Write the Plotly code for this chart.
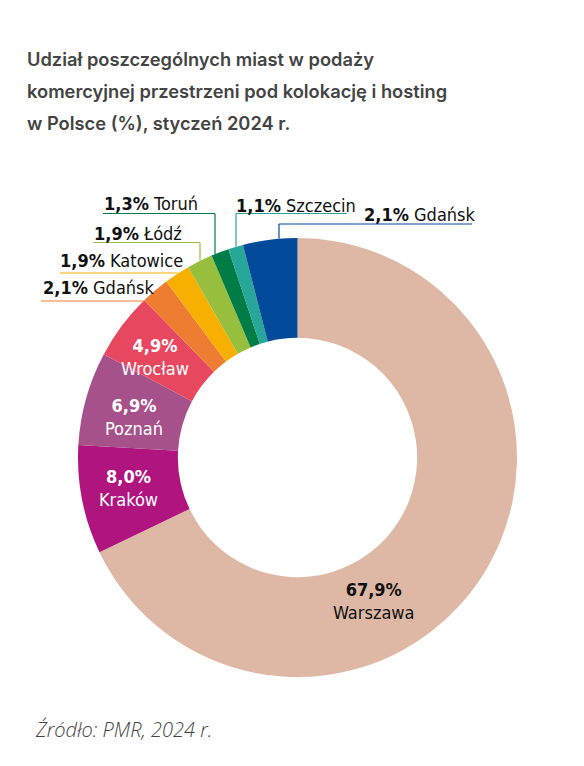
import math
import plotly.graph_objects as go

W, H = 584, 766

# ---------------- data ----------------
cities = ["Warszawa", "Kraków", "Poznań", "Wrocław", "Gdańsk", "Katowice",
          "Łódź", "Toruń", "Szczecin", "Gdańsk"]
# slice shares as drawn in the picture (%), clockwise from 12 o'clock
shares = [67.9, 8.0, 6.9, 4.9, 2.1, 1.9, 1.9, 1.3, 1.1, 4.0]
# percentages printed on the chart
printed_pct = ["67,9%", "8,0%", "6,9%", "4,9%", "2,1%", "1,9%",
               "1,9%", "1,3%", "1,1%", "2,1%"]
colors = ["#DFB8A5", "#B0157F", "#A6518A", "#E8485F", "#EE7D31", "#F8B000",
          "#97BE3C", "#007C46", "#27A69A", "#024A9A"]

title_lines = ["Udział poszczególnych miast w podaży",
               "komercyjnej przestrzeni pod kolokację i hosting",
               "w Polsce (%), styczeń 2024 r."]
source_text = "Źródło: PMR, 2024 r."

# ---------------- layout constants ----------------
OFF = 8  # page margin offset of the plot div
CX, CY, R = 297.5, 457.5, 219.5
HOLE = 0.545
LABEL_FONT = "DejaVu Sans Condensed, Liberation Sans Narrow, Roboto Condensed, sans-serif"
TITLE_FONT = "Inter, Lato, sans-serif"


def px(x):
    return (x - OFF) / W


def py(y):
    return 1 - (y - OFF) / H


def edge_y(x):
    return CY - math.sqrt(R * R - (x - CX) ** 2)


def edge_x_left(y):
    return CX - math.sqrt(R * R - (y - CY) ** 2)


fig = go.Figure()
fig.add_trace(go.Pie(
    labels=[f"{c} {i}" for i, c in enumerate(cities)],
    values=shares,
    marker=dict(colors=colors, line=dict(width=0)),
    hole=HOLE,
    sort=False,
    direction="clockwise",
    rotation=0,
    textinfo="none",
    hovertext=[f"{c}: {p}" for c, p in zip(cities, printed_pct)],
    hoverinfo="text",
    showlegend=False,
    domain=dict(x=[px(CX - R), px(CX + R)], y=[py(CY + R), py(CY - R)]),
))

annotations = []
shapes = []

# title
for i, line in enumerate(title_lines):
    annotations.append(dict(
        x=px(25), y=py(59 + 32 * i), xref="paper", yref="paper",
        xanchor="left", yanchor="middle", showarrow=False,
        text=line, font=dict(family=TITLE_FONT, size=18.3, color="#444444", weight=600),
    ))

# source
annotations.append(dict(
    x=px(33), y=py(729), xref="paper", yref="paper",
    xanchor="left", yanchor="middle", showarrow=False,
    text=f"<i>{source_text}</i>",
    font=dict(family="Open Sans, sans-serif", size=20, color="#444444", weight=300),
))

# inside labels: index -> (center x, center y, text colour)
inside = {0: (373, 601, "#111111"), 1: (128, 488, "#FFFFFF"),
          2: (134, 416.5, "#FFFFFF"), 3: (155, 356.5, "#FFFFFF")}
for idx, (x, y, col) in inside.items():
    annotations.append(dict(
        x=px(x), y=py(y), xref="paper", yref="paper",
        xanchor="center", yanchor="middle", showarrow=False,
        text=f"<b>{printed_pct[idx]}</b><br>{cities[idx]}",
        font=dict(family=LABEL_FONT, size=18, color=col),
    ))

# outside labels: index -> (text left x, text center y, underline y, line start x, line end x, vertical x or None)
outside = {
    7: (103, 204, 213.5, 103, 215, 215),
    6: (93, 233.5, 242.5, 93, 200, 200),
    5: (59, 260.5, 273, 60, None, None),
    4: (42, 287.5, 301, 41, None, None),
    8: (235, 205, 213.5, 236, 347, 236),
    9: (363, 214, 224, 279, 472, 279),
}
for idx, (tx, ty, uy, x0, x1, vx) in outside.items():
    annotations.append(dict(
        x=px(tx - 1), y=py(ty), xref="paper", yref="paper",
        xanchor="left", yanchor="middle", showarrow=False,
        text=f"<b>{printed_pct[idx]}</b> {cities[idx]}",
        font=dict(family=LABEL_FONT, size=18, color="#111111"),
    ))
    if x1 is None:
        x1 = edge_x_left(uy)
    shapes.append(dict(type="line", xref="paper", yref="paper",
                       x0=px(x0), x1=px(x1), y0=py(uy), y1=py(uy),
                       line=dict(color=colors[idx], width=1.2)))
    if vx is not None:
        shapes.append(dict(type="line", xref="paper", yref="paper",
                           x0=px(vx), x1=px(vx), y0=py(uy), y1=py(edge_y(vx)),
                           line=dict(color=colors[idx], width=1.2)))

fig.update_layout(
    width=W, height=H,
    margin=dict(l=0, r=0, t=0, b=0),
    paper_bgcolor="white", plot_bgcolor="white",
    annotations=annotations, shapes=shapes,
)

fig.write_html("out.html")
